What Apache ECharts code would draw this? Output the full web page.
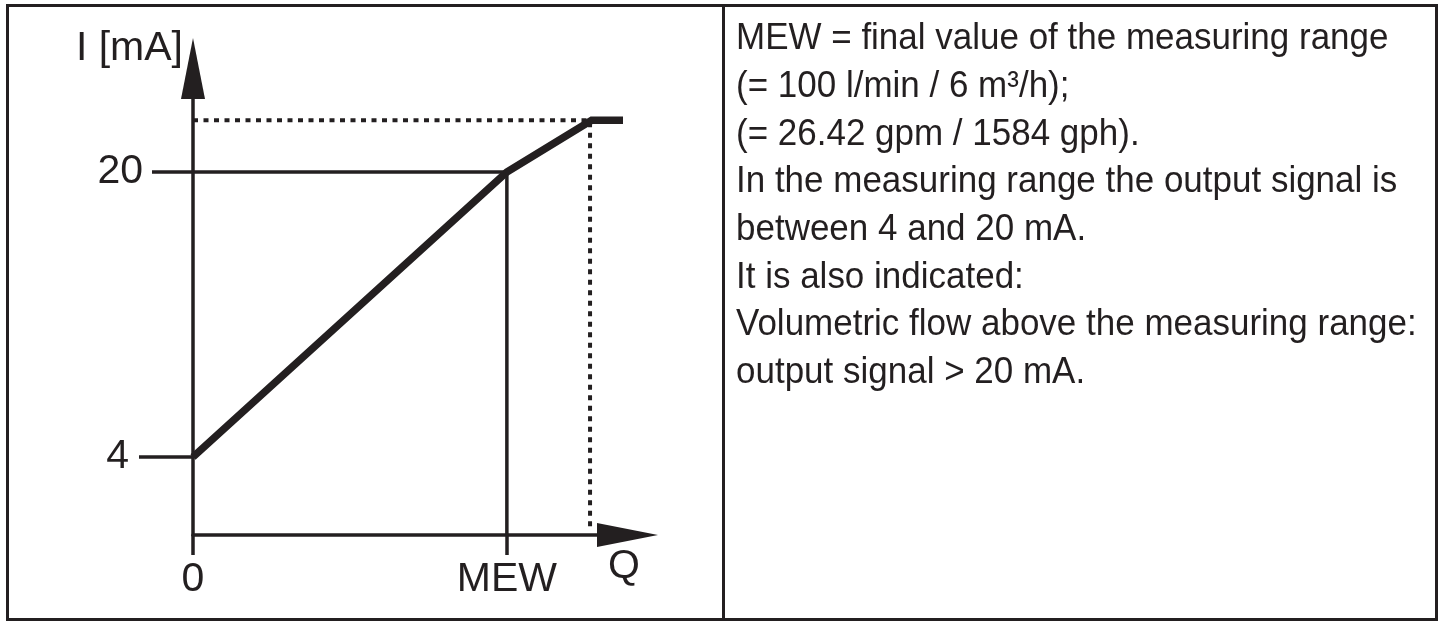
<!DOCTYPE html>
<html>
<head>
<meta charset="utf-8">
<title>Analogue output characteristic</title>
<script src="https://cdn.jsdelivr.net/npm/echarts@6/dist/echarts.min.js"></script>
<style>
  html, body { margin: 0; padding: 0; background: #fff; }
  #chart { width: 1447px; height: 622px; }
</style>
</head>
<body>
<div id="chart"></div>
<script>
  // Q axis in % of MEW (MEW = 100), I axis in mA
  const xTickValues = [0, 100];
  const xTickLabels = ['0', 'MEW'];
  const yLowTick = [4];
  const yHighTick = [20];
  const xAxisMax = 137;
  const yAxisMin = -0.38;
  const yAxisMax = 24.1;

  // output characteristic (thick line)
  const signalQ = [0, 100, 127, 137];
  const signalI = [4, 20, 22.9, 22.9];
  // guide lines at the final value of the measuring range
  const mewGuideQ = [0, 100, 100];
  const mewGuideI = [20, 20, yAxisMin];
  // dotted limit
  const limitQ = [0, 126.5, 126.5];
  const limitI = [22.9, 22.9, 0];

  const noteLines = [
    'MEW = final value of the measuring range',
    '(= 100 l/min / 6 m³/h);',
    '(= 26.42 gpm / 1584 gph).',
    'In the measuring range the output signal is',
    'between 4 and 20 mA.',
    'It is also indicated:',
    'Volumetric flow above the measuring range:',
    'output signal > 20 mA.'
  ];

  const ink = '#231f20';
  const font = "'Liberation Sans', Arial, Helvetica, sans-serif";

  const zip = (xs, ys) => xs.map((x, i) => [x, ys[i]]);
  const axisLineStyle = { color: ink, width: 3.5 };

  const myChart = echarts.init(document.getElementById('chart'));
  myChart.setOption({
    animation: false,
    textStyle: { fontFamily: font, color: ink },
    grid: { left: 193, right: 824, top: 99, bottom: 87 },
    xAxis: {
      type: 'value',
      min: 0,
      max: xAxisMax,
      name: 'Q',
      nameLocation: 'end',
      nameGap: 1,
      nameTextStyle: {
        fontSize: 41, color: ink, fontFamily: font,
        align: 'center', verticalAlign: 'top', lineHeight: 41,
        padding: [11, 0, 0, 0]
      },
      axisLine: {
        show: true,
        onZero: false,
        symbol: ['none', 'triangle'],
        symbolSize: [24, 61],
        // arrow base sits a little before the end of the axis
        symbolOffset: [0, 4.5],
        lineStyle: axisLineStyle
      },
      axisTick: { show: true, customValues: xTickValues, length: 20, lineStyle: axisLineStyle },
      axisLabel: {
        customValues: xTickValues,
        formatter: v => xTickLabels[xTickValues.indexOf(v)],
        margin: 24,
        fontSize: 41,
        lineHeight: 41,
        color: ink,
        fontFamily: font
      },
      splitLine: { show: false }
    },
    yAxis: [
      {
        type: 'value',
        min: yAxisMin,
        max: yAxisMax,
        position: 'left',
        name: 'I [mA]',
        nameLocation: 'end',
        nameGap: 50,
        nameTextStyle: {
          fontSize: 41, color: ink, fontFamily: font,
          align: 'right', verticalAlign: 'middle',
          padding: [0, 10, 0, 0]
        },
        axisLine: {
          show: true,
          onZero: false,
          symbol: ['none', 'triangle'],
          symbolSize: [24, 61],
          symbolOffset: [0, 30.5],
          lineStyle: axisLineStyle
        },
        axisTick: { show: true, customValues: yLowTick, length: 54, lineStyle: axisLineStyle },
        axisLabel: {
          customValues: yLowTick,
          margin: 64,
          fontSize: 41,
          color: ink,
          fontFamily: font,
          padding: [0, 0, 18, 0]
        },
        splitLine: { show: false }
      },
      {
        type: 'value',
        min: yAxisMin,
        max: yAxisMax,
        position: 'left',
        axisLine: { show: false, onZero: false },
        axisTick: { show: true, customValues: yHighTick, length: 41, lineStyle: axisLineStyle },
        axisLabel: {
          customValues: yHighTick,
          margin: 50,
          fontSize: 41,
          color: ink,
          fontFamily: font
        },
        splitLine: { show: false }
      }
    ],
    series: [
      {
        type: 'line',
        data: zip(mewGuideQ, mewGuideI),
        symbol: 'none',
        lineStyle: { color: ink, width: 3.5 },
        silent: true,
        z: 2
      },
      {
        type: 'line',
        data: zip(limitQ, limitI),
        symbol: 'none',
        lineStyle: { color: ink, width: 4, type: [5, 5.5] },
        silent: true,
        z: 2
      },
      {
        type: 'line',
        data: zip(signalQ, signalI),
        symbol: 'none',
        clip: false,
        lineStyle: { color: ink, width: 7.5, join: 'miter' },
        silent: true,
        z: 3
      }
    ],
    graphic: [
      {
        type: 'rect',
        shape: { x: 7.5, y: 5.5, width: 1429, height: 614 },
        style: { fill: 'none', stroke: ink, lineWidth: 3 }
      },
      {
        type: 'line',
        shape: { x1: 723.5, y1: 5.5, x2: 723.5, y2: 619.5 },
        style: { stroke: ink, lineWidth: 3 }
      },
      {
        type: 'text',
        x: 736,
        y: 15,
        scaleX: 0.933,
        style: {
          text: noteLines.join('\n'),
          fontSize: 37.5,
          fontFamily: font,
          fill: ink,
          lineHeight: 47.7,
          verticalAlign: 'top'
        }
      }
    ]
  });
  window.addEventListener('resize', function () { myChart.resize(); });
</script>
</body>
</html>
